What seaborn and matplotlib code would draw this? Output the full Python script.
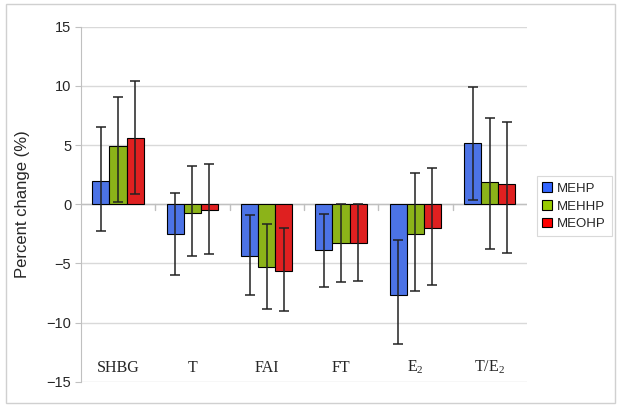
import numpy as np
import pandas as pd
import matplotlib
matplotlib.use("Agg")
import matplotlib.pyplot as plt
import seaborn as sns
from matplotlib.patches import Rectangle

# data
categories = ["SHBG", "T", "FAI", "FT", "E2", "T/E2"]
cat_labels = ["SHBG", "T", "FAI", "FT", r"E$_\mathrm{2}$", r"T/E$_\mathrm{2}$"]
metabolites = ["MEHP", "MEHHP", "MEOHP"]

mehp = [1.97, -2.48, -4.4, -3.87, -7.63, 5.2]
mehhp = [4.9, -0.7, -5.28, -3.3, -2.48, 1.84]
meohp = [5.57, -0.48, -5.65, -3.3, -2.0, 1.67]

mehp_lo = [-2.26, -5.95, -7.7, -7.0, -11.8, 0.4]
mehp_hi = [6.5, 0.99, -0.9, -0.85, -3.05, 9.9]
mehhp_lo = [0.17, -4.4, -8.84, -6.58, -7.35, -3.81]
mehhp_hi = [9.07, 3.25, -1.7, 0.05, 2.6, 7.26]
meohp_lo = [0.85, -4.2, -8.98, -6.5, -6.86, -4.09]
meohp_hi = [10.45, 3.4, -1.98, 0.05, 3.1, 6.92]

colors = ["#3366ff", "#99cc00", "#ff0000"]

df = pd.DataFrame({
    "cat": categories * 3,
    "met": np.repeat(metabolites, len(categories)),
    "val": mehp + mehhp + meohp,
    "lo": mehp_lo + mehhp_lo + meohp_lo,
    "hi": mehp_hi + mehhp_hi + meohp_hi,
})

sns.set_style("white")
plt.rcParams["font.family"] = ["Liberation Sans", "DejaVu Sans"]
plt.rcParams["mathtext.fontset"] = "custom"
plt.rcParams["mathtext.rm"] = "Liberation Serif"

fig = plt.figure(figsize=(6.22, 4.11), dpi=100)
ax = fig.add_axes([0.130, 0.071, 0.717, 0.864])

sns.barplot(data=df, x="cat", y="val", hue="met", order=categories,
            hue_order=metabolites, palette=colors, width=0.69,
            errorbar=None, edgecolor="black", linewidth=0.8, ax=ax,
            legend=False, zorder=3)

# asymmetric error bars placed on the bar centres
for i, met in enumerate(metabolites):
    sub = df[df["met"] == met].set_index("cat").loc[categories]
    bars = ax.containers[i]
    xs = [b.get_x() + b.get_width() / 2 for b in bars]
    yerr = [sub["val"] - sub["lo"], sub["hi"] - sub["val"]]
    ax.errorbar(xs, sub["val"], yerr=yerr, fmt="none", ecolor="#222222",
                elinewidth=1.1, capsize=3.5, capthick=1.1, zorder=4)

ax.set_ylim(-15, 15)
ax.set_xlim(-0.5, len(categories) - 0.5)
ax.set_yticks(np.arange(-15, 16, 5))
ax.tick_params(axis="y", labelsize=10.5, length=4, color="#c0c0c0",
               direction="out", left=True, pad=3)
ax.yaxis.grid(True, color="#d9d9d9", linewidth=1, zorder=0)
ax.set_axisbelow(True)
for s in ["top", "right", "bottom"]:
    ax.spines[s].set_visible(False)
ax.spines["left"].set_color("#c0c0c0")

# zero line with category separator ticks
ax.axhline(0, color="#c0c0c0", linewidth=1, zorder=2)
for k in range(1, len(categories)):
    ax.plot([k - 0.5, k - 0.5], [0, -0.45], color="#c0c0c0", lw=1, zorder=2)

ax.set_xticks([])
ax.set_xlabel("")
trans = matplotlib.transforms.blended_transform_factory(ax.transData, ax.transAxes)
for k, lab in enumerate(cat_labels):
    ax.text(k, 0.04, lab, transform=trans, ha="center", va="center",
            fontsize=11.5, family="Liberation Serif")

ax.set_ylabel("Percent change (%)", fontsize=12, labelpad=12)

handles = [Rectangle((0, 0), 1, 1, facecolor=c, edgecolor="black", lw=0.8)
           for c in colors]
leg = fig.legend(handles, metabolites, loc="center", bbox_to_anchor=(0.923, 0.498),
                 fontsize=9.5, frameon=True, fancybox=False, handlelength=0.75,
                 handleheight=0.75, handletextpad=0.35, labelspacing=0.4,
                 borderpad=0.45)
leg.get_frame().set_edgecolor("#d0d0d0")
leg.get_frame().set_linewidth(0.8)

# chart border
fig.patches.append(Rectangle((0.01, 0.02), 0.978, 0.97, transform=fig.transFigure,
                             fill=False, edgecolor="#d0d0d0", lw=1))

fig.savefig("out.png", dpi=100)
